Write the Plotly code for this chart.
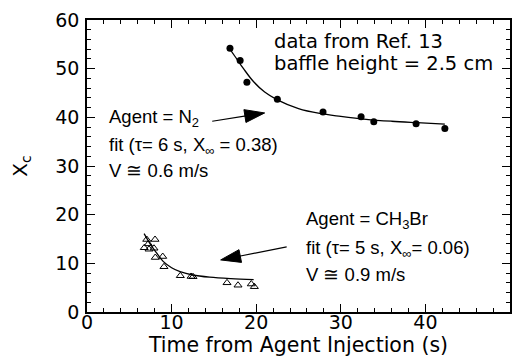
import plotly.graph_objects as go

# ---- data ----
n2_t = [16.9, 18.1, 18.9, 22.5, 27.9, 32.4, 33.9, 38.9, 42.3]
n2_x = [54.2, 51.7, 47.2, 43.7, 41.1, 40.1, 39.1, 38.7, 37.7]
n2_fit_t = [16.7, 17.5, 18.5, 19.7, 21.0, 22.5, 25.0, 27.5, 30.0, 33.0, 36.0, 39.0, 42.3]
n2_fit_x = [54.5, 52.5, 50.0, 47.3, 45.2, 43.6, 41.8, 40.8, 40.2, 39.6, 39.2, 38.9, 38.6]

br_t = [7.06, 8.04, 6.77, 7.33, 7.92, 7.25, 8.07, 8.95, 9.10, 11.03, 12.3, 12.53, 16.55, 17.85, 19.42, 19.78]
br_x = [14.9, 14.9, 13.2, 12.9, 13.1, 14.0, 11.2, 11.4, 9.3, 7.45, 7.3, 7.25, 6.0, 5.5, 5.75, 5.2]
br_fit_t = [6.75, 7.5, 8.2, 9.0, 10.0, 11.0, 12.5, 14.5, 17.0, 19.7]
br_fit_x = [16.1, 13.9, 12.2, 10.4, 9.1, 8.3, 7.6, 7.15, 6.85, 6.65]

# arrows: (tail, tip) in data units
n2_arrow_t = [14.8, 21.0]
n2_arrow_x = [39.2, 40.9]
br_arrow_t = [23.6, 15.8]
br_arrow_x = [13.4, 10.7]

x_ticks = [0, 10, 20, 30, 40, 50]
y_ticks = [0, 10, 20, 30, 40, 50, 60]

fig = go.Figure()

fig.add_trace(go.Scatter(x=n2_fit_t, y=n2_fit_x, mode="lines",
                         line=dict(color="black", width=1.3, shape="spline"),
                         showlegend=False, hoverinfo="skip"))
fig.add_trace(go.Scatter(x=br_fit_t, y=br_fit_x, mode="lines",
                         line=dict(color="black", width=1.3, shape="spline"),
                         showlegend=False, hoverinfo="skip"))
fig.add_trace(go.Scatter(x=n2_t, y=n2_x, mode="markers",
                         marker=dict(symbol="circle", size=7, color="black"),
                         showlegend=False))
fig.add_trace(go.Scatter(x=br_t, y=br_x, mode="markers",
                         marker=dict(symbol="triangle-up-open", size=7, color="black",
                                     line=dict(width=1)),
                         showlegend=False))

for at, ax_ in [(n2_arrow_t, n2_arrow_x), (br_arrow_t, br_arrow_x)]:
    fig.add_trace(go.Scatter(x=at, y=ax_, mode="lines+markers",
                             line=dict(color="black", width=1.2),
                             marker=dict(symbol=["circle", "arrow"], size=[0, 21],
                                         angleref="previous", color="black", opacity=1,
                                         line=dict(width=1, color="black")),
                             showlegend=False, hoverinfo="skip"))

ann_font = dict(family="Liberation Sans, Arial, sans-serif", size=18.5, color="black")
wide_font = dict(family="DejaVu Sans, sans-serif", size=19.5, color="black")

labels = [
    (2.4, 39.9, "Agent = N<sub>2</sub>", ann_font),
    (2.4, 34.1, "fit (τ= 6 s, X<sub>∞</sub> = 0.38)", ann_font),
    (2.4, 29.0, "V ≅ 0.6 m/s", ann_font),
    (25.6, 18.9, "Agent = CH<sub>3</sub>Br", ann_font),
    (25.6, 12.9, "fit (τ= 5 s, X<sub>∞</sub>= 0.06)", ann_font),
    (25.6, 7.7, "V ≅ 0.9 m/s", ann_font),
    (21.9, 55.5, "data from Ref. 13", wide_font),
    (21.9, 51.1, "baffle height = 2.5 cm", wide_font),
]
for x, y, t, f in labels:
    fig.add_annotation(x=x, y=y, xref="x", yref="y", text=t, showarrow=False,
                       xanchor="left", yanchor="middle", font=f)

axis_common = dict(
    showline=True, linecolor="black", linewidth=1.5, mirror="allticks",
    ticks="inside", ticklen=8, tickwidth=1.2, tickcolor="black",
    showgrid=False, zeroline=False,
    tickfont=dict(family="DejaVu Sans, sans-serif", size=19, color="black"),
)

fig.update_xaxes(range=[0, 50], tickvals=x_ticks, ticklabelstandoff=-8,
                 minor=dict(dtick=2, ticklen=4, tickwidth=1, tickcolor="black", ticks="inside"),
                 title=dict(text="Time from Agent Injection (s)", standoff=4,
                            font=dict(family="DejaVu Sans, sans-serif", size=20.5, color="black")),
                 **axis_common)
fig.update_yaxes(range=[0, 60], tickvals=y_ticks, ticklabelstandoff=2,
                 minor=dict(dtick=2, ticklen=4, tickwidth=1, tickcolor="black", ticks="inside"),
                 title=dict(text="X<sub>c</sub>", standoff=22,
                            font=dict(family="DejaVu Sans, sans-serif", size=20, color="black")),
                 **axis_common)

fig.update_layout(width=521, height=360,
                  margin=dict(l=87, r=11, t=20, b=48, autoexpand=False),
                  plot_bgcolor="white", paper_bgcolor="white")

fig.write_html("out.html")
